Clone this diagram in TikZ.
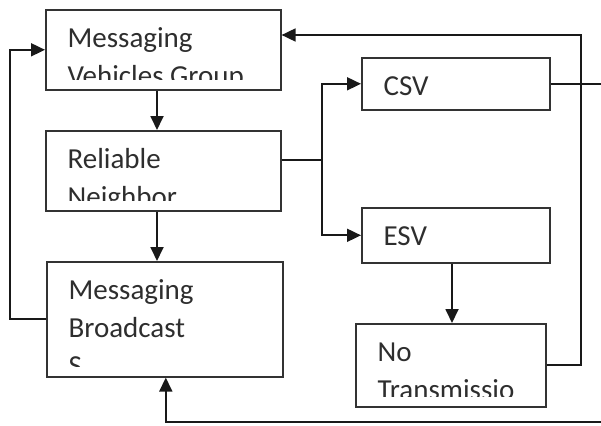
\documentclass[tikz,border=0pt]{standalone}
\usepackage{fontspec}
\setmainfont{Carlito}
\usetikzlibrary{arrows.meta}

\tikzset{
  box/.style={draw=black!80, line width=1.6pt, inner sep=0pt, anchor=north west},
  % three clipped text lines set at a fixed baseline spacing inside a box
  boxtext/.style n args={3}{path picture={
      \clip ([yshift=10pt]path picture bounding box.south west)
        rectangle (path picture bounding box.north east);
      \node[lbl] at ([xshift=21pt,yshift=-38pt]path picture bounding box.north west) {#1};
      \node[lbl] at ([xshift=21pt,yshift=-76pt]path picture bounding box.north west) {#2};
      \node[lbl] at ([xshift=21pt,yshift=-114pt]path picture bounding box.north west) {#3};
  }},
  lbl/.style={anchor=base west, inner sep=0pt, minimum width=0pt, minimum height=0pt,
    draw=none, text=black!82, font=\fontsize{29}{38}\selectfont},
  wire/.style={line width=1.8pt, draw=black!90},
  arr/.style={wire, -{Triangle[length=14pt,width=13pt]}},
}

\begin{document}
\begin{tikzpicture}[x=1pt,y=-1pt]
  \useasboundingbox (0,0) rectangle (601,425);

  % boxes
  \node[box, minimum width=235pt, minimum height=80pt,
        boxtext={Messaging}{Vehicles Group}{}] (grp) at (45,9) {};
  \node[box, minimum width=235pt, minimum height=80pt,
        boxtext={Reliable}{Neighbor}{}] (rel) at (45,130) {};
  \node[box, minimum width=236pt, minimum height=115pt,
        boxtext={Messaging}{Broadcast}{S}] (bc) at (46,261) {};
  \node[box, minimum width=188pt, minimum height=52pt,
        boxtext={CSV}{}{}] (csv) at (361,57) {};
  \node[box, minimum width=188pt, minimum height=55pt,
        boxtext={ESV}{}{}] (esv) at (361,207) {};
  \node[box, minimum width=190pt, minimum height=83pt,
        boxtext={No}{Transmissio}{}] (ntx) at (355,323) {};

  % helper points for routing
  \coordinate (vx) at (157,0);
  \coordinate (ex) at (452,0);
  \coordinate (br) at (322,160);
  \coordinate (rtop) at (581,35);
  \coordinate (edge) at (601,0);
  \coordinate (botout) at (601,422);

  % main chain
  \draw[arr] (vx |- grp.south) -- (vx |- rel.north);
  \draw[arr] (vx |- rel.south) -- (vx |- bc.north);

  % loop back from broadcast to the group box
  \draw[arr] (bc.west) -- ++(-36,0) |- (grp.west);

  % branch to CSV / ESV
  \draw[wire] (br -| rel.east) -- (br);
  \draw[arr] (br) |- (csv.west);
  \draw[arr] (br) |- (esv.west);

  % ESV to no transmission
  \draw[arr] (ex |- esv.south) -- (ex |- ntx.north);

  % no transmission back to the group box
  \draw[arr] (ntx.east) -| (rtop) -- (rtop -| grp.east);

  % outgoing lines at the right edge
  \draw[wire] (csv.east) -- (csv.east -| edge);
  \draw[arr] (botout) -| ([xshift=1pt]bc.south);
\end{tikzpicture}
\end{document}
